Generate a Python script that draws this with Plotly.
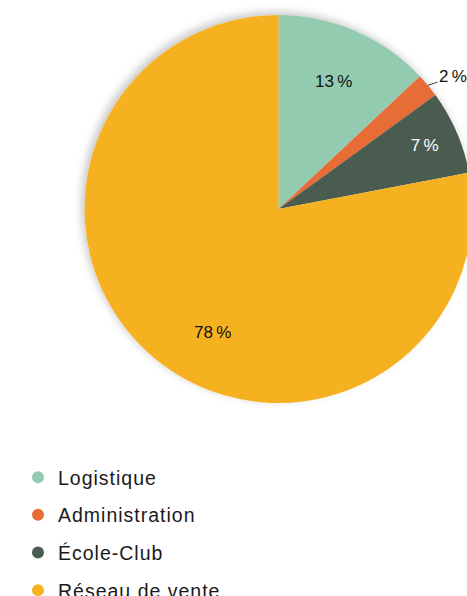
import math
import plotly.graph_objects as go

# Répartition des effectifs par secteur
categories = ["Logistique", "Administration", "École-Club", "Réseau de vente"]
values = [13, 2, 7, 78]
colors = ["#93CBB0", "#E86C35", "#4A5B4F", "#F6B120"]
text_colors = ["#111111", "#111111", "#FFFFFF", "#111111"]
# small slice gets a callout, large slice a placed annotation
text_positions = ["inside", "none", "inside", "none"]

FONT = "Liberation Sans, Arial, Helvetica, sans-serif"
W, H = 480, 630

# pie geometry in pixels
CX, CY, R = 278.5, 209.0, 194.0
pie_domain = dict(x=[(CX - R) / W, (CX + R) / W], y=[1 - (CY + R) / H, 1 - (CY - R) / H])


def to_paper(px, py):
    return px / W, 1 - py / H


def edge_point(frac, scale=1.0):
    """Pixel point at a fraction of the full turn, clockwise from 12 o'clock."""
    a = 2 * math.pi * frac
    return CX + scale * R * math.sin(a), CY - scale * R * math.cos(a)


total = sum(values)
cum = [sum(values[:i]) for i in range(len(values))]

fig = go.Figure()

# soft backdrop used for the drop shadow
fig.add_trace(go.Pie(
    labels=categories, values=values, sort=False, direction="clockwise",
    rotation=0, domain=pie_domain, textinfo="none", hoverinfo="skip",
    marker=dict(colors=["#FFFFFF"] * len(values), line=dict(width=0)),
    showlegend=False,
))

fig.add_trace(go.Pie(
    labels=categories, values=values, sort=False, direction="clockwise",
    rotation=0, domain=pie_domain,
    texttemplate="%{value}\u2009%", textposition=text_positions,
    insidetextorientation="horizontal",
    textfont=dict(family=FONT, size=17, color=text_colors),
    marker=dict(colors=colors, line=dict(width=0)),
    showlegend=False,
))

annotations = []

# callout for the Administration slice
mid = (cum[1] + values[1] / 2) / total
ex, ey = edge_point(mid)
x0, y0 = to_paper(ex, ey)
annotations.append(dict(
    x=x0, y=y0, xref="paper", yref="paper",
    text=f"{values[1]}\u2009%", showarrow=True, arrowhead=0,
    arrowwidth=0.9, arrowcolor="#222222", ax=25, ay=-8.5, standoff=0,
    font=dict(family=FONT, size=17, color="#111111"),
))

# label for the Réseau de vente slice
lx, ly = edge_point(208 / 360, scale=0.72)
x1, y1 = to_paper(lx, ly)
annotations.append(dict(
    x=x1, y=y1, xref="paper", yref="paper",
    text=f"{values[3]}\u2009%", showarrow=False,
    font=dict(family=FONT, size=17, color="#111111"),
))

# circular legend markers
for i, (name, col) in enumerate(zip(categories, colors)):
    fig.add_trace(go.Scatter(
        x=[None], y=[None], mode="markers", name=name,
        marker=dict(symbol="circle", size=11, color=col),
        legendgroup=f"g{i}", showlegend=True,
    ))

fig.update_layout(
    width=W, height=H,
    margin=dict(l=0, r=0, t=0, b=0),
    paper_bgcolor="white", plot_bgcolor="white",
    xaxis=dict(visible=False), yaxis=dict(visible=False),
    annotations=annotations,
    legend=dict(
        x=18 / W, xanchor="left", y=1 - 458 / H, yanchor="top",
        font=dict(family=FONT, size=19.5, color="#1A1A1A"),
        tracegroupgap=9.3, itemsizing="constant",
        bgcolor="rgba(0,0,0,0)",
    ),
)

post = """
document.body.style.overflow = 'hidden';
var gd = document.querySelector('.plotly-graph-div');
function restyleDom() {
  var traces = document.querySelectorAll('.pielayer .trace');
  if (traces.length) {
    traces[0].style.filter = 'drop-shadow(-3px -3px 4px rgba(0,0,0,0.22))';
  }
  document.querySelectorAll('.legendtext').forEach(function (t) {
    t.style.letterSpacing = '1px';
  });
  document.querySelectorAll('.legend .scrollbox').forEach(function (s) {
    s.removeAttribute('clip-path');
  });
}
restyleDom();
gd.on('plotly_afterplot', restyleDom);
"""

fig.write_html("out.html", post_script=post)
